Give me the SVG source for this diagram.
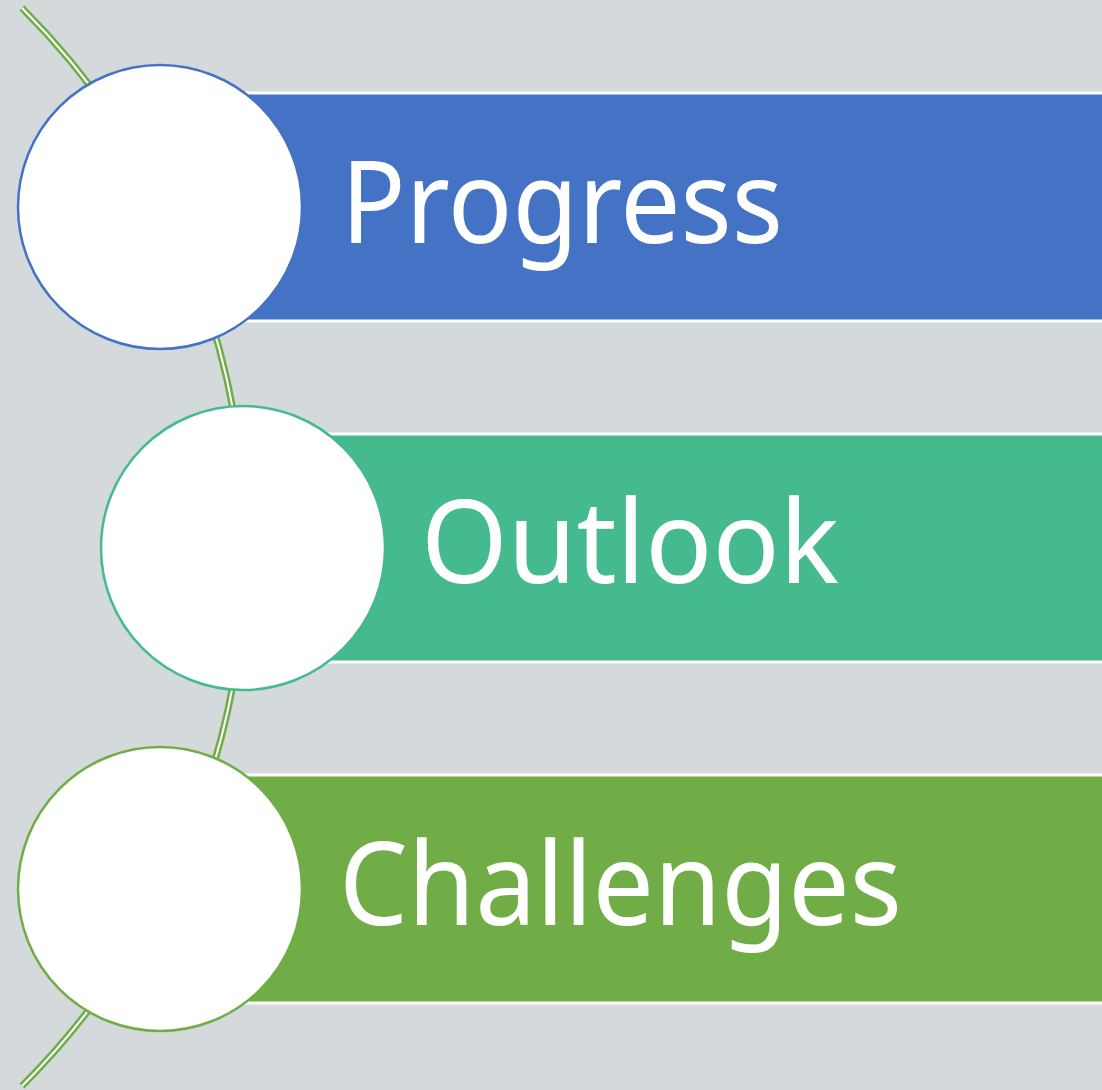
<svg xmlns="http://www.w3.org/2000/svg" width="1102" height="1090" viewBox="0 0 1102 1090">
  <style>
    .bar { stroke: #ffffff; stroke-width: 3; }
    .disc { fill: #ffffff; stroke-width: 2.5; }
    .label { font-family: "Noto Sans", "Open Sans", sans-serif; font-size: 116px; fill: #ffffff; }
  </style>
  <rect x="0" y="0" width="1102" height="1090" fill="#d4d9dc"/>

  <!-- connector: double-line arc through the three discs -->
  <g id="connectors">
    <path d="M 22 8 A 762 762 0 0 1 22 1086" fill="none" stroke="#70ad47" stroke-width="7"/>
    <path d="M 22 8 A 762 762 0 0 1 22 1086" fill="none" stroke="#ffffff" stroke-width="2"/>
  </g>

  <g id="node-progress">
    <rect class="bar" x="150" y="93" width="970" height="228" fill="#4472c4"/>
    <circle class="disc" cx="160" cy="207" r="142" stroke="#4472c4"/>
    <text class="label" x="341" y="243" textLength="442" lengthAdjust="spacingAndGlyphs">Progress</text>
  </g>

  <g id="node-outlook">
    <rect class="bar" x="230" y="434" width="890" height="228" fill="#44ba8e"/>
    <circle class="disc" cx="243" cy="548" r="142" stroke="#44ba8e"/>
    <text class="label" x="421" y="583" textLength="418" lengthAdjust="spacingAndGlyphs">Outlook</text>
  </g>

  <g id="node-challenges">
    <rect class="bar" x="150" y="775" width="970" height="228" fill="#70ad47"/>
    <circle class="disc" cx="160" cy="889" r="142" stroke="#70ad47"/>
    <text class="label" x="339" y="925" textLength="563" lengthAdjust="spacingAndGlyphs">Challenges</text>
  </g>
</svg>
